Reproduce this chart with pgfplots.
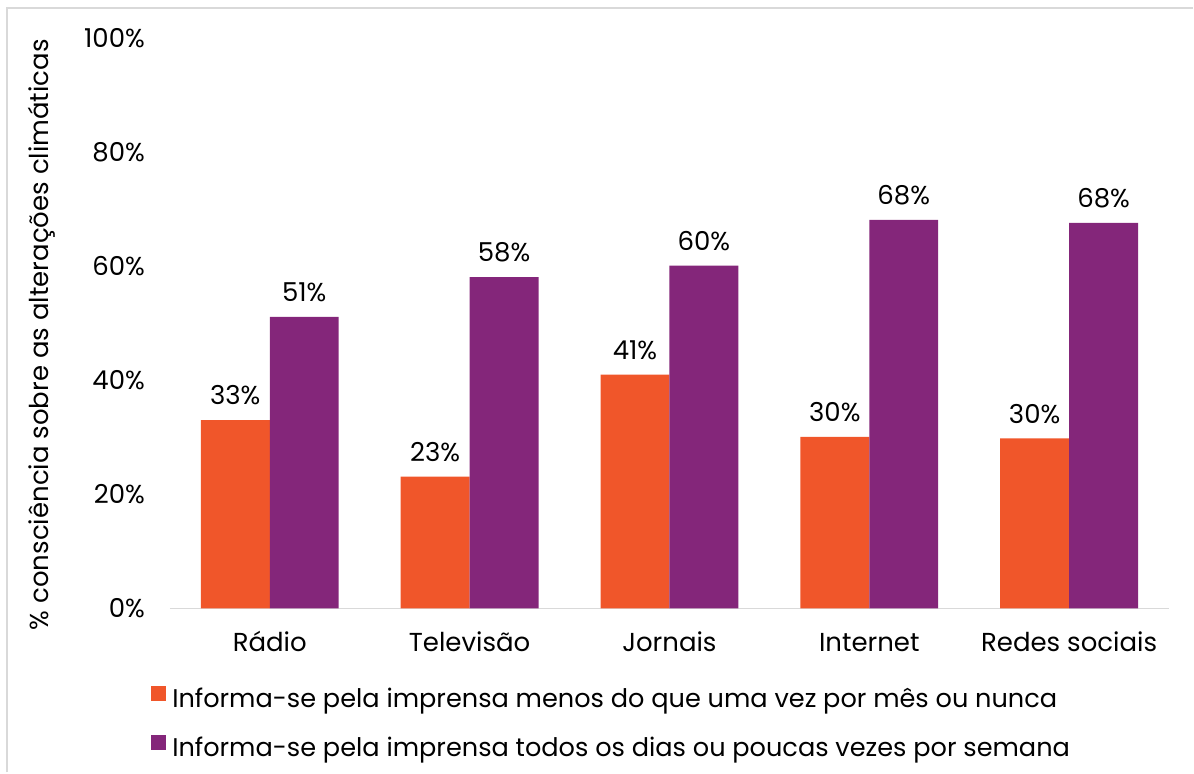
\documentclass[border=0pt]{standalone}
\usepackage{pgfplots}
\pgfplotsset{compat=1.18}
\usepackage{fontspec}
\setmainfont{Poppins}
\definecolor{laranja}{HTML}{F0562A}
\definecolor{roxo}{HTML}{84267A}
\definecolor{linha}{HTML}{D9D9D9}
\begin{document}
\begin{tikzpicture}[x=0.5pt,y=0.5pt]
\fontsize{13pt}{15pt}\selectfont
\path (0,0) rectangle (1194,773);
\draw[linha,line width=1pt] (7,0) -- (7,765) -- (1194,765);
\node[rotate=90,font=\fontsize{13pt}{15pt}\selectfont] at (42,438) {\% consciência sobre as alterações climáticas};
\begin{axis}[
  at={(85pt,82pt)},anchor=south west,
  scale only axis,width=500pt,height=285.5pt,
  ybar=0pt,bar width=34.5pt,
  xmin=-0.5,xmax=4.5,ymin=0,ymax=100,enlarge y limits=false,
  xtick={0,1,2,3,4},
  xticklabels={Rádio,Televisão,Jornais,Internet,Redes sociais},
  ytick={0,20,40,60,80,100},
  yticklabels={0\%,20\%,40\%,60\%,80\%,100\%},
  major tick length=0pt,
  axis x line*=bottom,axis y line*=left,
  x axis line style={draw=linha,line width=0.75pt},
  y axis line style={draw=none},
  tick label style={font=\fontsize{13pt}{15pt}\selectfont},
  xticklabel style={yshift=-6.8pt,text height=10pt,text depth=3pt},
  yticklabel style={xshift=-8pt},
  /pgf/number format/assume math mode=true,
  clip=false,
  nodes near coords={\pgfmathprintnumber[fixed,precision=0]{\pgfplotspointmeta}\%},
  every node near coord/.append style={font=\fontsize{13pt}{15pt}\selectfont,yshift=3pt,black},
  legend style={at={(-0.019,-0.1357)},anchor=north west,draw=none,fill=none,
    inner sep=0pt,row sep=11pt,font=\fontsize{12.8pt}{15pt}\selectfont,
    nodes={inner sep=0pt,text height=10pt,text depth=3pt}},
  legend cell align=left,
  legend image code/.code={\fill[#1] (0pt,-0.5pt) rectangle (7.5pt,7pt); \path (10.5pt,0pt);},
]
\addplot[fill=laranja,draw=none] coordinates {(0,33) (1,23.1) (2,41) (3,30.1) (4,29.8)};
\addplot[fill=roxo,draw=none] coordinates {(0,51.1) (1,58.1) (2,60.1) (3,68.1) (4,67.6)};
\legend{Informa-se pela imprensa menos do que uma vez por mês ou nunca,
Informa-se pela imprensa todos os dias ou poucas vezes por semana}
\end{axis}
\end{tikzpicture}
\end{document}
